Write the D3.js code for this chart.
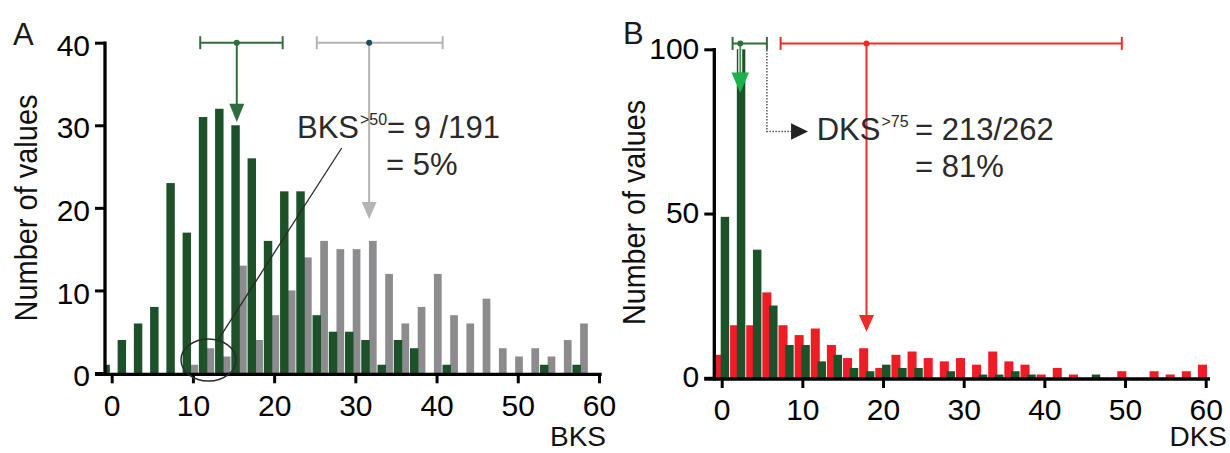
<!DOCTYPE html>
<html><head><meta charset="utf-8">
<script src="https://cdn.jsdelivr.net/npm/d3@7"></script>
<style>
body{margin:0;background:#fff}
svg{display:block}
text{font-family:"Liberation Sans",Arial,Helvetica,sans-serif}
</style></head>
<body><svg id="chart" width="1230" height="453"></svg>
<script>
// ---------- DATA ----------
// Panel A: BKS histogram, bins of width 2 (bin centres 0..58)
const binsA = [0,2,4,6,8,10,12,14,16,18,20,22,24,26,28,30,32,34,36,38,40,42,44,46,48,50,52,54,56,58];
const bksGreen = [1,4,6,8,23,17,31,32,30,26,16,22,22,7,5,5,4,1,4,3,0,1,0,0,0,0,0,1,0,1];
const bksGray  = [0,0,0,0,0,1,3,2,13,4,7,10,14,16,15,15,16,12,6,8,12,7,6,9,3,2,3,2,4,6];
// Panel B: DKS histogram, bins of width 2 (bin centres 0..60)
const binsB = [0,2,4,6,8,10,12,14,16,18,20,22,24,26,28,30,32,34,36,38,40,42,44,46,48,50,52,54,56,58,60];
const dksRed   = [7,16,16,26,16,13,15,10,6,9,3,7,8,6,5,6,4,8,5,4,1,3,1,0,0,2,0,2,1,2,4];
const dksGreen = [49,100,39,22,10,10,5,7,3,2,4,3,3,0,2,0,1,1,2,1,0,0,0,1,0,0,0,0,0,0,0];
// mean and range markers [low, mean, high]
const bksGreenStat = [10.9, 15.4, 21.05];
const bksGrayStat  = [25.25, 31.7, 40.75];
const dksGreenStat = [1.35, 2.3, 5.6];
const dksRedStat   = [7.3, 17.95, 49.6];
// tick labels
const ticksAx = [0,10,20,30,40,50,60];
const ticksAy = [0,10,20,30,40];
const ticksBx = [0,10,20,30,40,50,60];
const ticksBy = [0,50,100];

// ---------- COLOURS ----------
const C = {green:"#1c512a", gray:"#8c8c8f", red:"#ee1c24", errGreen:"#2f6d3c",
           errGray:"#b4b4b6", arrowGreen:"#1eb14b", text:"#2a2a2a"};

const svg = d3.select("#chart");

// ---------- SCALES ----------
const xA = d3.scaleLinear().domain([0,60]).range([111.7,599]);
const yA = d3.scaleLinear().domain([0,40]).range([373,42.7]);
const xB = d3.scaleLinear().domain([0,60]).range([721.7,1205.7]);
const yB = d3.scaleLinear().domain([0,100]).range([377.8,49.3]);
const axAx = 105, axBx = 714.3;       // y-axis line positions
const axAy = 374.3, axBy = 379;        // x-axis line positions

const defs = svg.append("defs");
defs.append("clipPath").attr("id","clipA").append("rect").attr("x",axAx).attr("y",0).attr("width",600).attr("height",453);
defs.append("clipPath").attr("id","clipB").append("rect").attr("x",axBx).attr("y",0).attr("width",520).attr("height",453);

function bars(g, bins, vals, xs, ys, off, w, color){
  g.selectAll(null).data(bins.map((b,i)=>({b, v:vals[i]})).filter(d=>d.v>0))
    .join("rect")
    .attr("x", d=>xs(d.b+off-w/2))
    .attr("width", xs(w)-xs(0))
    .attr("y", d=>ys(d.v))
    .attr("height", d=>ys(0)-ys(d.v))
    .attr("fill", color);
}

// ---------- PANEL A BARS ----------
const gA = svg.append("g").attr("clip-path","url(#clipA)");
bars(gA, binsA, bksGray, xA, yA, 0.15, 0.95, C.gray);
bars(gA, binsA, bksGreen, xA, yA, -0.75, 1.04, C.green);

// ---------- PANEL B BARS ----------
const gB = svg.append("g").attr("clip-path","url(#clipB)");
bars(gB, binsB, dksRed, xB, yB, -0.4, 1.12, C.red);
bars(gB, binsB, dksGreen, xB, yB, 0.4, 1.05, C.green);

// ---------- AXES ----------
function drawAxes(xs, ys, axX, axY, xt, yt, xEnd, yTop, ydy){
  const g = svg.append("g");
  const gy = g.append("g").attr("transform",`translate(${axX},0)`)
    .call(d3.axisLeft(ys).tickValues(yt).tickSize(10).tickPadding(5).tickSizeOuter(0));
  gy.select(".domain").remove();
  gy.selectAll(".tick line").attr("stroke","#000").attr("stroke-width",3);
  gy.selectAll(".tick text").attr("font-size",30).attr("fill","#000").attr("dy",ydy)
    .style("font-family","'Liberation Sans',Arial,sans-serif");
  const gx = g.append("g").attr("transform",`translate(0,${axY})`)
    .call(d3.axisBottom(xs).tickValues(xt).tickSize(9).tickPadding(11).tickSizeOuter(0));
  gx.select(".domain").remove();
  gx.selectAll(".tick line").attr("stroke","#000").attr("stroke-width",3);
  gx.selectAll(".tick text").attr("font-size",30).attr("fill","#000")
    .style("font-family","'Liberation Sans',Arial,sans-serif");
  g.append("line").attr("x1",axX).attr("x2",axX).attr("y1",yTop).attr("y2",axY+1.6)
    .attr("stroke","#000").attr("stroke-width",3.3);
  g.append("line").attr("x1",axX-10).attr("x2",xEnd).attr("y1",axY).attr("y2",axY)
    .attr("stroke","#000").attr("stroke-width",3.3);
}
drawAxes(xA, yA, axAx, axAy, ticksAx, ticksAy, 601.7, 41.5, "0.42em");
drawAxes(xB, yB, axBx, axBy, ticksBx, ticksBy, 1210, 48, "0.3em");

// ---------- MEAN / RANGE MARKERS ----------
function errBar(xs, ys, stat, yv, color, dotColor, r){
  const y = ys(yv);
  svg.append("line").attr("x1",xs(stat[0])).attr("x2",xs(stat[2])).attr("y1",y).attr("y2",y)
    .attr("stroke",color).attr("stroke-width",2);
  [stat[0],stat[2]].forEach(v=>svg.append("line").attr("x1",xs(v)).attr("x2",xs(v))
    .attr("y1",y-6.5).attr("y2",y+6.5).attr("stroke",color).attr("stroke-width",2));
  svg.append("circle").attr("cx",xs(stat[1])).attr("cy",y).attr("r",r).attr("fill",dotColor);
}
function arrow(xs, ys, xv, y0v, headTopV, tipV, color, w, lw){
  const x = xs(xv);
  svg.append("line").attr("x1",x).attr("x2",x).attr("y1",ys(y0v)).attr("y2",ys(headTopV)+1)
    .attr("stroke",color).attr("stroke-width",lw);
  svg.append("path").attr("d",`M${x-w/2},${ys(headTopV)}L${x+w/2},${ys(headTopV)}L${x},${ys(tipV)}Z`)
    .attr("fill",color);
}
// Panel A
arrow(xA, yA, bksGreenStat[1], 40, 32.6, 30.4, C.errGreen, 15, 2);
arrow(xA, yA, bksGrayStat[1], 40, 20.7, 18.65, C.errGray, 15, 2);
errBar(xA, yA, bksGreenStat, 40, C.errGreen, C.errGreen, 3);
errBar(xA, yA, bksGrayStat, 40, C.errGray, "#1d4c60", 3);

// Panel B
arrow(xB, yB, dksRedStat[1], 101.8, 19.1, 14.0, "#ee2c27", 15, 2);
errBar(xB, yB, dksRedStat, 101.8, "#ee2c27", "#ee2c27", 3);
svg.append("line").attr("x1",xB(dksGreenStat[1])).attr("x2",xB(dksGreenStat[1]))
  .attr("y1",yB(100)).attr("y2",yB(92.9)).attr("stroke","#ffffff").attr("stroke-width",4);
svg.append("line").attr("x1",xB(dksGreenStat[1])).attr("x2",xB(dksGreenStat[1]))
  .attr("y1",yB(101.8)).attr("y2",yB(92.9)).attr("stroke","#3d9a55").attr("stroke-width",1.8);
svg.append("path").attr("d",(()=>{const x=xB(dksGreenStat[1]);return `M${x-8.8},${yB(92.9)}L${x+8.8},${yB(92.9)}L${x},${yB(86.8)}Z`;})())
  .attr("fill",C.arrowGreen);
errBar(xB, yB, dksGreenStat, 101.8, C.errGreen, C.errGreen, 3);
svg.append("path")
  .attr("d",`M${xB(dksGreenStat[2])},${yB(99.8)}L${xB(dksGreenStat[2])},${yB(75)}L${xB(8.7)},${yB(75)}`)
  .attr("fill","none").attr("stroke","#555").attr("stroke-width",1.5).attr("stroke-dasharray","1.5,1.5");
svg.append("path")
  .attr("d",`M${xB(8.6)},${yB(75)-8.3}L${xB(10.7)},${yB(75)}L${xB(8.6)},${yB(75)+8.3}Z`)
  .attr("fill","#222");

// ---------- ANNOTATIONS ----------
svg.append("ellipse").attr("cx",208.5).attr("cy",360).attr("rx",27.5).attr("ry",21)
  .attr("fill","none").attr("stroke","#2a2a2a").attr("stroke-width",1.4);
svg.append("line").attr("x1",218.5).attr("y1",339.3).attr("x2",341.7).attr("y2",148)
  .attr("stroke","#2a2a2a").attr("stroke-width",1.3);

function txt(x,y,s,size,anchor,color){
  return svg.append("text").attr("x",x).attr("y",y).attr("font-size",size)
    .attr("text-anchor",anchor||"start").attr("fill",color||C.text).text(s);
}
txt(297,138.3,"BKS",31);
txt(360,124.5,">50",16);
txt(387,138.3,"= 9 /191",31);
txt(386,175,"= 5%",31);

txt(816.7,139.5,"DKS",31);
txt(881.5,126.5,">75",16);
txt(915,140,"= 213/262",31);
txt(915,176.7,"= 81%",31);

txt(13,45,"A",31,"start","#1a1a1a");
txt(623,43.5,"B",31,"start","#1a1a1a");

txt(606,446,"BKS",28,"end","#111");
txt(1227,446,"DKS",28,"end","#111");
svg.append("text").attr("transform","translate(37.3,208) rotate(-90)")
  .attr("text-anchor","middle").attr("font-size",31).attr("fill","#111")
  .attr("textLength",227).attr("lengthAdjust","spacingAndGlyphs").text("Number of values");
svg.append("text").attr("transform","translate(645,212.5) rotate(-90)")
  .attr("text-anchor","middle").attr("font-size",31).attr("fill","#111")
  .attr("textLength",225).attr("lengthAdjust","spacingAndGlyphs").text("Number of values");
</script>
</body></html>
